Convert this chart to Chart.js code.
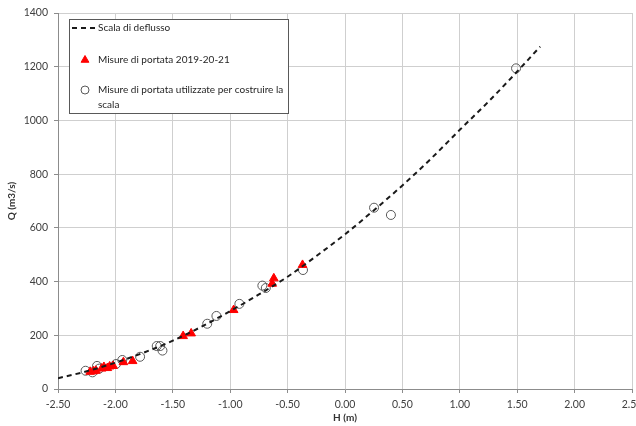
<!DOCTYPE html>
<html>
<head>
<meta charset="utf-8">
<script src="https://cdn.jsdelivr.net/npm/chart.js@4.4.0/dist/chart.umd.min.js"></script>
<style>
  html, body { margin: 0; padding: 0; background: #fff; overflow: hidden; }
  #wrap { width: 660px; height: 426px; }
</style>
</head>
<body>
<div id="wrap"><canvas id="myChart" width="660" height="426"></canvas></div>
<script>
// Scala di deflusso (dashed curve)
const curveH = [-2.5, -2.25, -2.0, -1.75, -1.5, -1.25, -1.0, -0.75, -0.5, -0.25, 0, 0.25, 0.5, 0.75, 1.0, 1.25, 1.5, 1.7];
const curveQ = [40, 66, 98, 136, 180, 232, 290, 352, 418, 495, 576, 665, 758, 858, 965, 1070, 1182, 1275];

// Misure di portata 2019-20-21 (red triangles)
const newH = [-2.22, -2.19, -2.17, -2.12, -2.10, -2.07, -2.05, -2.02, -1.93, -1.85, -1.41, -1.34, -0.97, -0.634, -0.62, -0.37];
const newQ = [64, 66, 68, 76, 82, 78, 84, 86, 100, 104, 197, 207, 294, 392, 412, 462];

// Misure usate per costruire la scala (open circles)
const oldH = [-2.26, -2.20, -2.16, -2.14, -1.995, -1.94, -1.785, -1.64, -1.61, -1.59, -1.20, -1.12, -0.92, -0.72, -0.69, -0.366, 0.253, 0.40, 1.49];
const oldQ = [68, 62, 86, 76, 93, 108, 120, 160, 160, 143, 243, 272, 317, 385, 376, 443, 675, 648, 1194];

const xTicks = [-2.5, -2.0, -1.5, -1.0, -0.5, 0, 0.5, 1.0, 1.5, 2.0, 2.5];
const yTicks = [0, 200, 400, 600, 800, 1000, 1200, 1400];

const legendLabels = ['Scala di deflusso', 'Misure di portata 2019-20-21', 'Misure di portata utilizzate per costruire la scala'];

const FONT = 'Lato, "Open Sans", sans-serif';

function toPoints(xs, ys) {
  return xs.map((x, i) => ({ x: x, y: ys[i] }));
}

// legend drawn as a box inside the plot, like the original
const boxLegend = {
  id: 'boxLegend',
  afterDraw(chart) {
    const ctx = chart.ctx;
    const ds = chart.data.datasets;
    ctx.save();
    ctx.fillStyle = '#fff';
    ctx.fillRect(69.5, 19.5, 219, 94);
    ctx.strokeStyle = '#595959';
    ctx.lineWidth = 1;
    ctx.strokeRect(69.5, 19.5, 219, 94);

    // dashed line sample
    ctx.strokeStyle = ds[0].borderColor;
    ctx.lineWidth = ds[0].borderWidth;
    ctx.setLineDash(ds[0].borderDash);
    ctx.beginPath();
    ctx.moveTo(72, 28);
    ctx.lineTo(97, 28);
    ctx.stroke();
    ctx.setLineDash([]);

    // triangle sample
    ctx.fillStyle = ds[1].backgroundColor;
    ctx.strokeStyle = ds[1].borderColor;
    ctx.lineWidth = 1;
    Chart.helpers.drawPoint(ctx, { pointStyle: 'triangle', radius: 4.5, borderWidth: 1, rotation: 0 }, 85, 60);

    // circle sample
    ctx.fillStyle = ds[2].backgroundColor;
    ctx.strokeStyle = ds[2].borderColor;
    Chart.helpers.drawPoint(ctx, { pointStyle: 'circle', radius: 4, borderWidth: 1, rotation: 0 }, 85, 90);

    ctx.fillStyle = '#262626';
    ctx.font = '10px ' + FONT;
    ctx.textBaseline = 'middle';
    ctx.textAlign = 'left';
    ctx.fillText(ds[0].label, 98, 28);
    ctx.fillText(ds[1].label, 98, 60);

    // wrap the long label
    const words = ds[2].label.split(' ');
    let line = '';
    let y = 90;
    words.forEach(w => {
      const test = line ? line + ' ' + w : w;
      if (ctx.measureText(test).width > 190 && line) {
        ctx.fillText(line, 98, y);
        line = w;
        y += 15;
      } else {
        line = test;
      }
    });
    ctx.fillText(line, 98, y);
    ctx.restore();
  }
};

const ctx = document.getElementById('myChart');
const myChart = new Chart(ctx, {
  type: 'scatter',
  data: {
    datasets: [
      {
        label: legendLabels[0],
        data: toPoints(curveH, curveQ),
        showLine: true,
        borderColor: '#1a1a1a',
        borderWidth: 2,
        borderDash: [5, 4],
        pointRadius: 0,
        fill: false,
        cubicInterpolationMode: 'monotone',
        order: 0
      },
      {
        label: legendLabels[1],
        data: toPoints(newH, newQ),
        pointStyle: 'triangle',
        pointRadius: 5,
        backgroundColor: '#ff0000',
        borderColor: '#ff0000',
        borderWidth: 1,
        order: 1
      },
      {
        label: legendLabels[2],
        data: toPoints(oldH, oldQ),
        pointStyle: 'circle',
        pointRadius: 4.5,
        backgroundColor: 'rgba(255,255,255,0)',
        borderColor: '#595959',
        borderWidth: 1,
        order: 2
      }
    ]
  },
  options: {
    responsive: false,
    animation: false,
    layout: { padding: { top: 13, right: 28, bottom: 0, left: 0 } },
    plugins: {
      legend: { display: false },
      tooltip: { enabled: false }
    },
    scales: {
      x: {
        type: 'linear',
        min: -2.5,
        max: 2.5,
        afterBuildTicks: (scale) => { scale.ticks = xTicks.map(v => ({ value: v })); },
        afterFit: (scale) => { scale.height = 37; },
        grid: { color: '#cfcfcf', lineWidth: 1, tickLength: 4, tickColor: '#8c8c8c' },
        border: { color: '#8c8c8c', width: 1 },
        ticks: {
          color: '#404040',
          font: { family: FONT, size: 10.5 },
          padding: 5,
          maxRotation: 0,
          callback: (v) => v.toFixed(2)
        },
        title: {
          display: true,
          text: 'H (m)',
          color: '#333',
          font: { family: FONT, size: 10, weight: 'bold' },
          padding: { top: 0, bottom: 2 }
        }
      },
      y: {
        min: 0,
        max: 1400,
        afterBuildTicks: (scale) => { scale.ticks = yTicks.map(v => ({ value: v })); },
        afterFit: (scale) => { scale.width = 58; },
        grid: { color: '#cfcfcf', lineWidth: 1, tickLength: 4, tickColor: '#8c8c8c' },
        border: { color: '#8c8c8c', width: 1 },
        ticks: {
          color: '#404040',
          font: { family: FONT, size: 10.5 },
          padding: 6,
          callback: (v) => String(v)
        },
        title: {
          display: true,
          text: 'Q (m3/s)',
          color: '#333',
          font: { family: FONT, size: 10, weight: 'bold' },
          padding: { top: 6, bottom: 0 }
        }
      }
    }
  },
  plugins: [boxLegend]
});
</script>
</body>
</html>
